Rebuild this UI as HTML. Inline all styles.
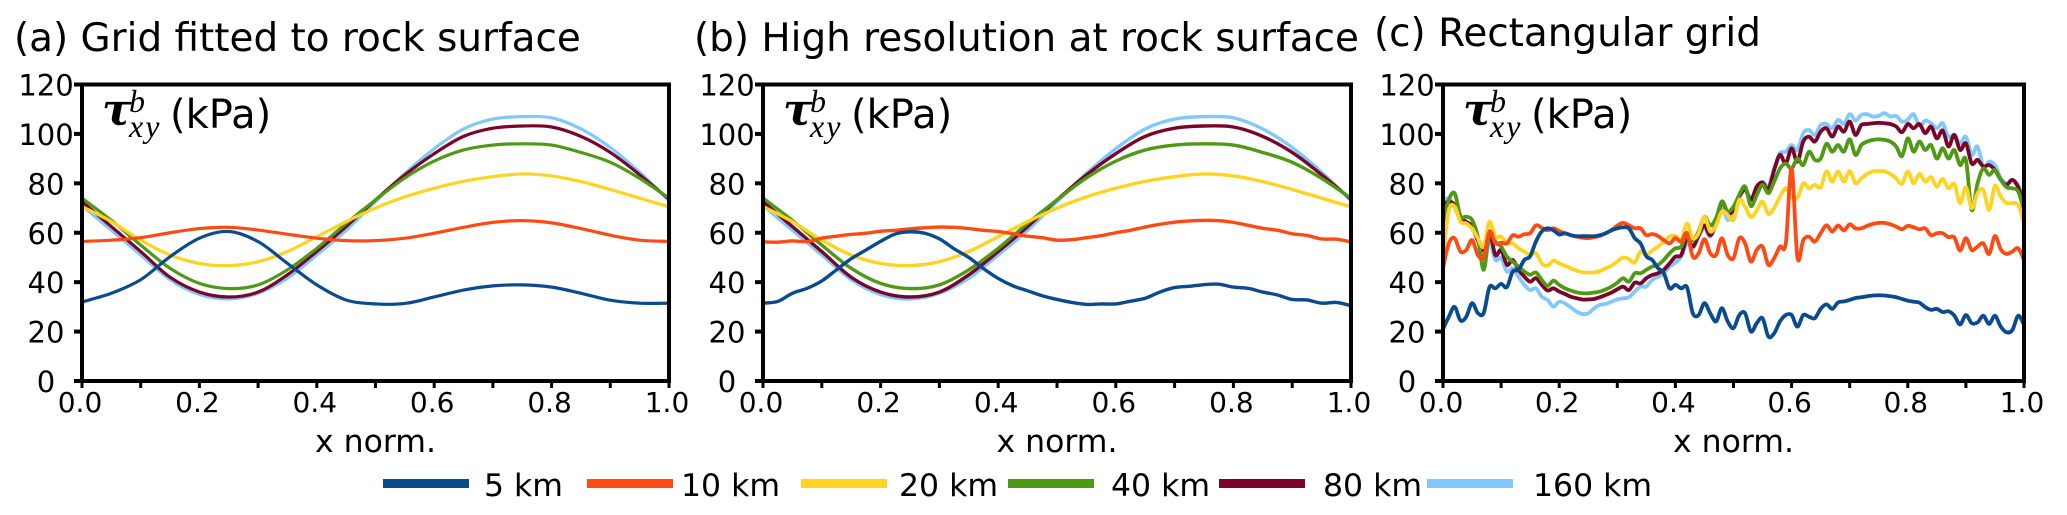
<!DOCTYPE html>
<html lang="en">
<head>
<meta charset="utf-8">
<title>Basal shear stress comparison</title>
<style>
html,body{margin:0;padding:0;background:#fff;}
svg{display:block;}
text{font-family:"DejaVu Sans","Liberation Sans",sans-serif;fill:#000;}
.math{font-family:"Liberation Serif","DejaVu Serif",serif;font-style:italic;}
.tau{font-family:"DejaVu Serif","Liberation Serif",serif;font-style:italic;font-weight:bold;}
</style>
</head>
<body>
<svg id="chart" width="2067" height="515" viewBox="0 0 2067 515" xmlns="http://www.w3.org/2000/svg">
<text x="14" y="51" font-size="38.9">(a) Grid fitted to rock surface</text>
<text x="694" y="51" font-size="38.9">(b) High resolution at rock surface</text>
<text x="1374" y="46" font-size="38.9">(c) Rectangular grid</text>
</svg>
<script>
const seriesLabels = ['5 km','10 km','20 km','40 km','80 km','160 km'];
const yTicks = [0,20,40,60,80,100,120];
const xLabelTicks = ['0.0','0.2','0.4','0.6','0.8','1.0'];
const xMinorTicks = [0,0.1,0.2,0.3,0.4,0.5,0.6,0.7,0.8,0.9,1];

const a5 = [32,35.5,41,50.3,57.8,60.5,56.4,47.6,38.9,32.8,31.2,31.4,34,36.8,38.5,38.9,38,35.5,32.7,31.5,31.5];
const a10 = [56.5,57,58,60,61.7,62.2,61.1,59.4,57.8,56.8,56.8,57.8,59.8,62.2,64.2,64.9,64,61.7,59,57,56.5];
const a20 = [70.6,64.5,57,51,47.6,46.7,48.3,52.4,58.4,64.5,70,74.5,78,80.8,82.7,83.8,83,80.7,77.5,74,70.5];
const a40 = [74,65,55,45.6,39.5,37.4,38.9,45,53.7,63.8,73.3,82.2,89,93.5,95.5,96,95.5,92.5,88.5,82,74];
const a80 = [72.6,62.5,52.4,42,36,34,36,43,52.4,62.5,73.3,83.4,92,99,102.3,103.2,102.8,99,92.5,83.5,73.5];
const a160 = [71,61,51,41,35,33.2,35.5,41.6,51,61,72.6,84,94,102,106,107,106.5,102,94.5,84.5,73];

const b5 = [31.5,32.2,35.5,37.5,40.5,45,49.5,53,56.5,59.5,60.4,59.8,57.5,53.5,50,45.5,41.5,38.5,36.5,34.5,33,31.8,31,31.2,31.2,32.3,33.5,36,37.8,38.3,39,39.2,38,37.5,36,34.8,33,32.8,31.5,31.8,30.5];
const b10 = [56.3,56.2,56.7,56.4,57.8,58.6,59.3,59.8,60.6,61,61.6,62,62.3,62.2,61.7,61,60.5,59.6,58.6,58,57,57.2,58,58.8,60,61,62.3,63.4,64.3,64.8,65,64.9,64.2,63,61.8,61,59.6,58.9,57.5,57.4,56.3];
const b20 = [70.6,64.5,57,51,47.6,46.7,48.3,52.4,58.4,64.5,70,74.5,78,80.8,82.7,83.8,83,80.7,77.5,74,70.5];
const b40 = [74,65,55,45.6,39.5,37.4,38.9,45,53.7,63.8,73.3,82.2,89,93.5,95.5,96,95.5,92.5,88.5,82,74];
const b80 = [72.6,62.5,52.4,42,36,34,36,43,52.4,62.5,73.3,83.4,92,99,102.3,103.2,102.8,99,92.5,83.5,73.5];
const b160 = [71,61,51,41,35,33.2,35.5,41.6,51,61,72.6,84,94,102,106,107,106.5,102,94.5,84.5,73];

const c5 = [21,26,30,24.5,26,31.5,27.5,27.5,38,37.5,39.3,38,44.3,45,49,50.5,56.5,60.5,61.8,61,59.3,59.8,59,58.6,58.6,58.6,58.6,59,59.8,61,61.8,62.2,61.8,57.8,55.7,50.5,49,45.7,43.7,37.5,38.9,37.5,37.9,27.4,26.7,31.5,27.4,24.1,29.5,24.1,21.4,26.7,27.4,20,23.4,25.4,18,19.3,24.1,26.7,26.7,22,26.7,26,25.4,29.2,31,29.2,31.8,32.2,32.8,33.6,33.9,34.3,34.6,34.7,34.6,34.3,33.9,33.2,32.5,32.1,31.7,29.9,28.8,29.2,27.9,28.2,26.5,22.9,26.7,23.4,23.7,26.4,23.1,26.4,22,19.7,20.6,26.4,22.8];
const c10 = [45.6,55.7,57.8,52.4,53,57,51,50,60.5,55.7,56,55.7,59,58.4,59.4,59.8,63,62,61,61.8,60.7,59.8,59,58.4,58,57.8,58.2,58.7,59.8,61,62.9,64,63,61.8,61.8,59,59.5,58.7,57,55.7,57.8,56.4,59.8,50.3,51.7,57.4,51.7,51,57.8,51,49.7,57.8,55.7,48.3,53,54.4,47,49.7,54.4,55.7,86,50,57,58.4,56.4,59.8,63,60.5,63,60.9,63.4,61.8,61.8,62.8,63.6,64,64,63.4,62.5,61.4,62.8,62.2,61.4,61.8,59,59.8,59.8,58.2,58.2,52.8,57.8,53,54.4,55.7,51.4,58.7,53.3,51.4,52.4,53.7,49];
const c20 = [50.3,69,70.6,64.5,63.8,61.8,57.8,54.4,64.5,58.4,58.4,55.7,55.7,53.7,52.4,51,51.7,47.6,46.7,48.7,47.6,46.7,45.6,44.7,44,43.9,43.9,44.5,45.6,46.7,48.3,50,49.3,48,52.4,51,52.8,54.4,56.4,58.4,58.7,57,63.8,57.8,59.8,66.5,60.5,63,68.6,67.2,65.2,73.3,70.6,66.3,69,72.6,67.6,70,74.6,78,74.6,74,80,78,79.4,78.4,84.8,80.7,84.8,80.7,85,80,82,83.8,84.8,85,84.8,83.8,82,79.8,84.8,80,83.8,80.7,82.5,78.7,81.8,78,79.8,72,78.4,70,76,77.3,69.2,79,74.6,72,72,71.3,63.8];
const c40 = [63.8,73.3,76,66.8,66.5,65.2,58.4,45,59.8,56.4,54.4,50.3,48.3,46.3,44.3,43,43.9,40.9,38.5,40.6,38.9,37.5,36.6,35.9,35.5,35.5,35.8,36.2,37.1,38.2,39.8,41.6,40.2,43.6,43.6,45,46.3,47,49,51.7,53.7,54.4,59.8,57,60.5,66.5,63,65.9,72.6,68.6,70.6,75.3,78.7,70.8,75.3,79.4,76,80.7,86,88,86,90,87.4,92.8,89.5,90,96,92.8,95.5,92.8,97.8,91.5,95.5,96.9,97.6,97.8,97.6,96.9,94.9,91,98.2,92.8,96.9,93.5,95.5,90,94.2,90,93.5,87.4,89.5,69.2,80,86,83.4,85.4,81.4,78.4,78,76.7,69.2];
const c80 = [71.5,72.6,71.3,65.9,64.5,62.5,57,53,60.5,51,53,47,49,45,42.2,40.2,41.6,38.9,36.6,37.5,36.2,35.2,34.1,33.5,33,33,33.2,33.9,34.8,35.8,37.1,38.2,36.8,39.8,39.5,41.6,42.9,43.6,45,47.6,50.3,51,57.8,54.4,59,63,59,63.8,72.6,67.9,69.2,74.6,77.3,73.3,78.7,80.3,77.6,85.4,91.5,88,94.2,88.8,96.9,98.9,96.9,100.9,102.3,98.9,103,100.9,105,99.6,103.6,104,104.3,104.5,104.3,104,103,100.7,104,102.3,104,100.3,103,98.2,101.4,94.9,99.6,93.5,96.2,88,89.5,86.8,87.4,85.4,81.4,79.4,81.4,78.4,71.9];
const c160 = [72.9,74,70.3,65.2,63.8,61.8,56.4,51,56.4,49,49.7,44.3,45.6,42.2,38.9,36.8,37.5,34.1,32.8,30.1,32.1,31.4,29.8,28.1,27.1,27.4,29.4,30.8,31.2,32.1,33,33.5,33.9,36.2,38.2,38.2,40.9,42.2,43.6,46.3,47.9,50.3,55.7,53.7,58.4,61.8,58.4,64.5,70.6,65.2,68.6,75.3,78,74,78,80.7,78.7,86,92.2,92.8,95.5,93.5,100.3,101.6,99.6,103.6,104,102.3,105.7,104,108,105.4,107.7,108,107,107.3,108.4,107,107.3,105,105.7,108,103.2,105.4,104.3,102.3,104.3,98.9,99.6,96.2,98.9,91.5,94.9,86.8,88.8,87.4,82,80,81.4,79.4,73.3];

const seriesColors = ['#0a4a8f','#ff4a14','#ffd322','#4f9a14','#7a0528','#80c8ff'];
const svg = document.getElementById('chart');
const NS = 'http://www.w3.org/2000/svg';
const plotTop = 84.5, plotBottom = 381;

function yScale(v){ return plotBottom - (v / 120) * (plotBottom - plotTop); }
function xScale(p, v){ return p.left + v * (p.right - p.left); }

function make(tag, attrs, parent){
  const el = document.createElementNS(NS, tag);
  for (const k in attrs) el.setAttribute(k, attrs[k]);
  (parent || svg).appendChild(el);
  return el;
}

function smoothPath(pts){
  let d = 'M' + pts[0][0].toFixed(2) + ' ' + pts[0][1].toFixed(2);
  for (let i = 0; i < pts.length - 1; i++){
    const p0 = pts[Math.max(0, i - 1)], p1 = pts[i], p2 = pts[i + 1], p3 = pts[Math.min(pts.length - 1, i + 2)];
    const c1x = p1[0] + (p2[0] - p0[0]) / 6, c1y = p1[1] + (p2[1] - p0[1]) / 6;
    const c2x = p2[0] - (p3[0] - p1[0]) / 6, c2y = p2[1] - (p3[1] - p1[1]) / 6;
    d += 'C' + c1x.toFixed(2) + ' ' + c1y.toFixed(2) + ' ' + c2x.toFixed(2) + ' ' + c2y.toFixed(2) + ' ' + p2[0].toFixed(2) + ' ' + p2[1].toFixed(2);
  }
  return d;
}

const panelList = [
  {id:'a', left:82, right:669, width:3.2, data:[a5,a10,a20,a40,a80,a160]},
  {id:'b', left:763, right:1351, width:3.4, data:[b5,b10,b20,b40,b80,b160]},
  {id:'c', left:1443, right:2024, width:3.8, data:[c5,c10,c20,c40,c80,c160]}
];

panelList.forEach(function(p){
  const g = make('g', {});
  
  

  for (let s = p.data.length - 1; s >= 0; s--){
    const vals = p.data[s];
    const pts = vals.map(function(v, i){ return [xScale(p, i / (vals.length - 1)), yScale(v)]; });
    const line = make('path', {d: smoothPath(pts), fill:'none', stroke: seriesColors[s], 'stroke-width': p.width, 'stroke-linejoin':'round'}, g);
    
    
  }

  const frame = make('rect', {x:p.left, y:plotTop, width:p.right - p.left, height:plotBottom - plotTop, fill:'none', stroke:'#000', 'stroke-width':4}, g);
  
  

  yTicks.forEach(function(t){
    const y = yScale(t);
    const tick = make('line', {x1:p.left - 8, x2:p.left, y1:y, y2:y, stroke:'#000', 'stroke-width':4}, g);
    
    
    const lab = make('text', {x:p.left - 36, y:y + 11, 'font-size':29, 'text-anchor':'middle'}, g);
    
    
    lab.textContent = String(t);
  });

  xMinorTicks.forEach(function(t){
    const x = xScale(p, t);
    const tick = make('line', {x1:x, x2:x, y1:plotBottom, y2:plotBottom + 7, stroke:'#000', 'stroke-width':3}, g);
    
    
  });

  xLabelTicks.forEach(function(t){
    const lab = make('text', {x:xScale(p, parseFloat(t)) - 2, y:412, 'font-size':28, 'text-anchor':'middle'}, g);
    
    
    lab.textContent = t;
  });

  const xTitle = make('text', {x:(p.left + p.right) / 2, y:452, 'font-size':31.5, 'text-anchor':'middle'}, g);
  
  
  xTitle.textContent = 'x norm.';

  const tau = make('text', {x:p.left + 20, y:125, 'font-size':44, 'class':'tau'}, g);
  
  
  tau.textContent = 'τ';
  const sup = make('text', {x:p.left + 47, y:112, 'font-size':32, 'class':'math'}, g);
  
  
  sup.textContent = 'b';
  const sub = make('text', {x:p.left + 47, y:137, 'font-size':32, 'class':'math', 'letter-spacing':'2'}, g);
  
  
  sub.textContent = 'xy';
  const unit = make('text', {x:p.left + 88, y:128, 'font-size':40}, g);
  
  
  unit.textContent = '(kPa)';
});

const legendSwatchStart = [383,587,801,1008,1219,1427];
const legendTextStart = [484,681,899,1111,1323,1533];
const legend = make('g', {});


seriesLabels.forEach(function(label, i){
  const sw = make('rect', {x:legendSwatchStart[i], y:479, width:86, height:9, fill:seriesColors[i]}, legend);
  
  
  const tx = make('text', {x:legendTextStart[i], y:496, 'font-size':31.5}, legend);
  
  
  tx.textContent = label;
});
</script>
</body>
</html>
